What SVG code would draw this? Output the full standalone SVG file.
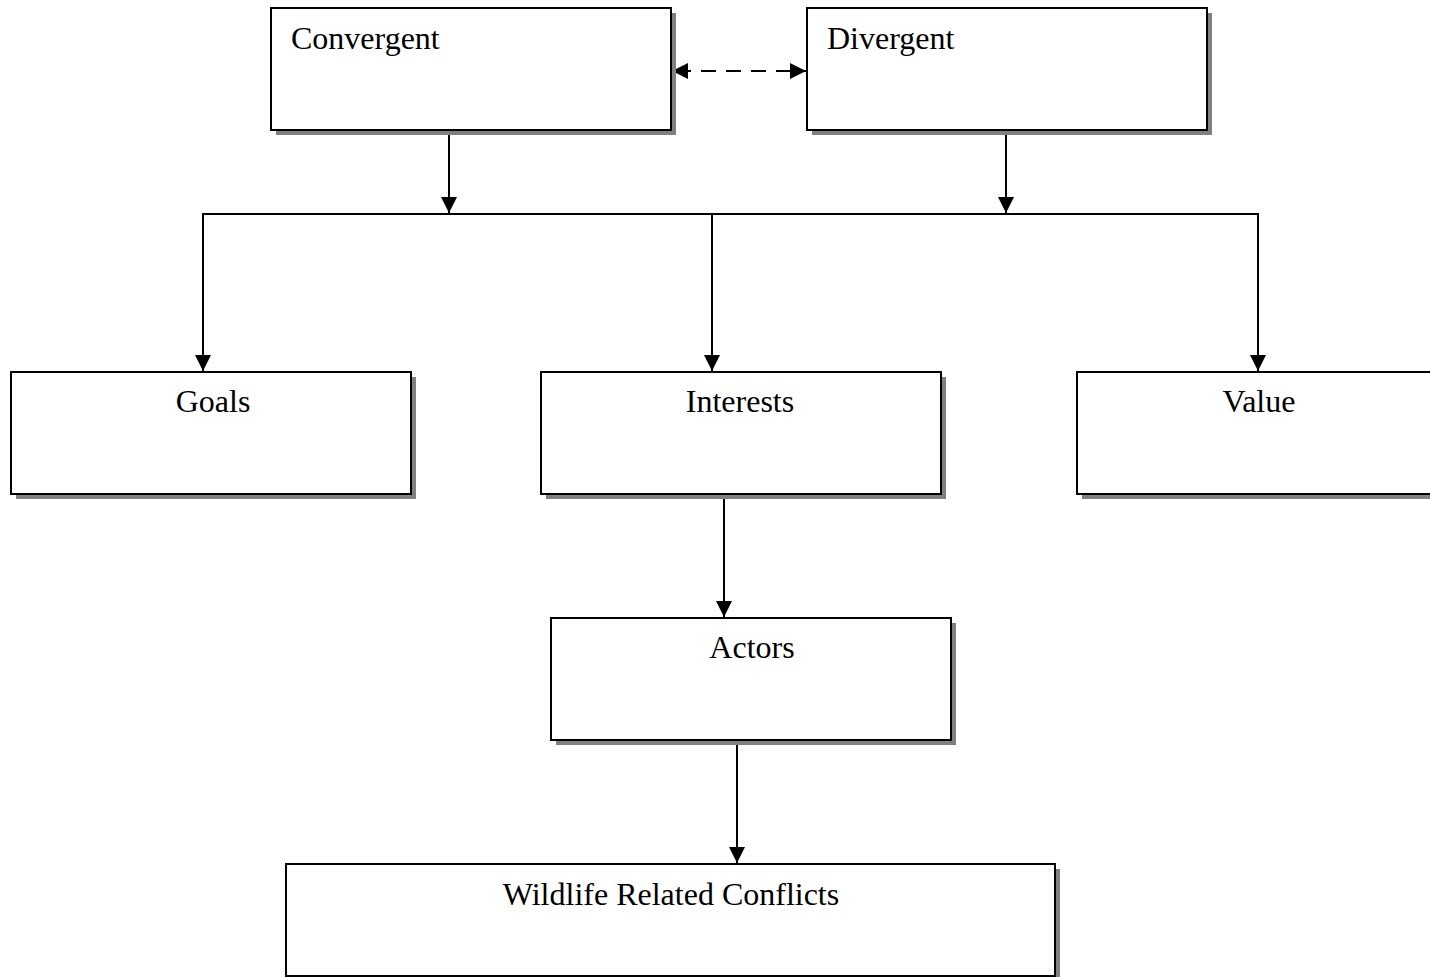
<svg xmlns="http://www.w3.org/2000/svg" width="1430" height="977" viewBox="0 0 1430 977">
<style>
.sh{fill:#808080;stroke:none}
.bx{fill:#fff;stroke:#000;stroke-width:2}
.t{font-family:"Liberation Serif","Times New Roman",serif;font-size:32px;fill:#000}
.c{text-anchor:middle}
.ln{fill:none;stroke:#000;stroke-width:2}
</style>
<defs>
<marker id="ah" viewBox="0 0 16 16" refX="16" refY="8" markerWidth="16" markerHeight="16" markerUnits="userSpaceOnUse" orient="auto-start-reverse">
<path d="M0,0 L16,8 L0,16 Z" fill="#000"/>
</marker>
</defs>
<rect width="1430" height="977" fill="#fff"/>
<g id="connectors">
<line class="ln" x1="672" y1="71" x2="806" y2="71" stroke-width="3" stroke-dasharray="15,10" stroke-dashoffset="-4" marker-start="url(#ah)" marker-end="url(#ah)"/>
<line class="ln" x1="449" y1="131" x2="449" y2="213" marker-end="url(#ah)"/>
<line class="ln" x1="1006" y1="131" x2="1006" y2="213" marker-end="url(#ah)"/>
<polyline class="ln" points="203,372 203,214 1258,214 1258,372"/>
<line class="ln" x1="203" y1="300" x2="203" y2="371" marker-end="url(#ah)"/>
<line class="ln" x1="1258" y1="300" x2="1258" y2="371" marker-end="url(#ah)"/>
<line class="ln" x1="712" y1="214" x2="712" y2="371" marker-end="url(#ah)"/>
<line class="ln" x1="724" y1="495" x2="724" y2="617" marker-end="url(#ah)"/>
<line class="ln" x1="737" y1="741" x2="737" y2="863" marker-end="url(#ah)"/>
</g>
<g id="convergent">
<rect class="sh" x="276" y="13" width="400" height="122"/>
<rect class="bx" x="271" y="8" width="400" height="122"/>
<text class="t" x="291" y="49">Convergent</text>
</g>
<g id="divergent">
<rect class="sh" x="812" y="13" width="400" height="122"/>
<rect class="bx" x="807" y="8" width="400" height="122"/>
<text class="t" x="827" y="49">Divergent</text>
</g>
<g id="goals">
<rect class="sh" x="16" y="377" width="400" height="122"/>
<rect class="bx" x="11" y="372" width="400" height="122"/>
<text class="t c" x="213" y="412">Goals</text>
</g>
<g id="interests">
<rect class="sh" x="546" y="377" width="400" height="122"/>
<rect class="bx" x="541" y="372" width="400" height="122"/>
<text class="t c" x="740" y="412">Interests</text>
</g>
<g id="value">
<rect class="sh" x="1082" y="377" width="400" height="122"/>
<rect class="bx" x="1077" y="372" width="400" height="122"/>
<text class="t c" x="1259" y="412">Value</text>
</g>
<g id="actors">
<rect class="sh" x="556" y="623" width="400" height="122"/>
<rect class="bx" x="551" y="618" width="400" height="122"/>
<text class="t c" x="752" y="658">Actors</text>
</g>
<g id="wildlife">
<rect class="sh" x="291" y="869" width="769" height="122"/>
<rect class="bx" x="286" y="864" width="769" height="112"/>
<text class="t c" x="671" y="905">Wildlife Related Conflicts</text>
</g>
</svg>
